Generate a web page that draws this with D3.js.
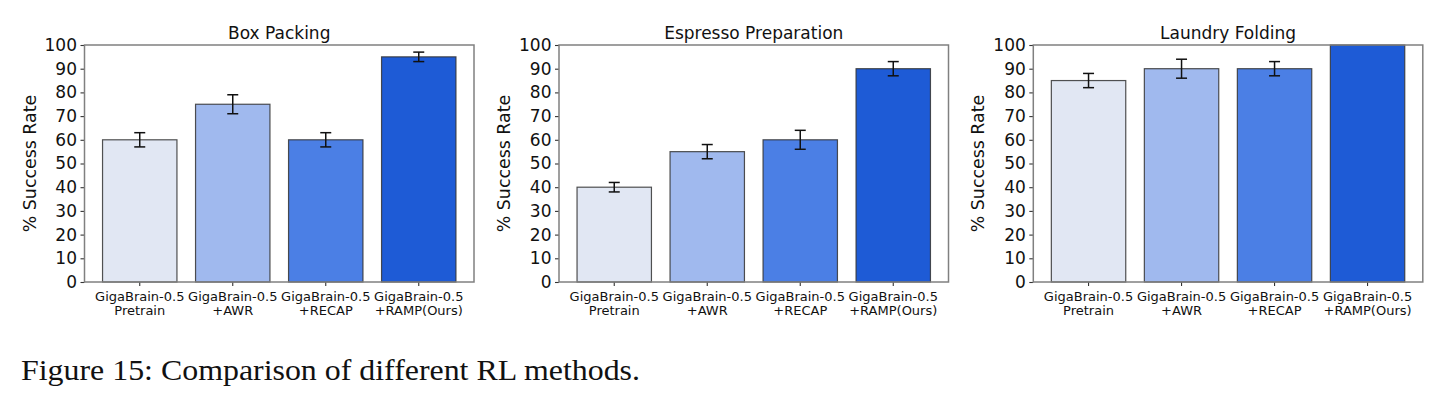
<!DOCTYPE html>
<html>
<head>
<meta charset="utf-8">
<script src="https://cdn.jsdelivr.net/npm/d3@7"></script>
<style>
  html, body { margin: 0; padding: 0; background: #fff; }
  svg { display: block; }
</style>
</head>
<body>
<svg id="chart"></svg>
<script>
// three bar panels — success rate of RL methods per task, with error bars

const methodLines = [
    ['GigaBrain-0.5', 'Pretrain'],
    ['GigaBrain-0.5', '+AWR'],
    ['GigaBrain-0.5', '+RECAP'],
    ['GigaBrain-0.5', '+RAMP(Ours)'],
];
const barColors = ['#e1e7f3', '#a0b9ee', '#4b7fe5', '#1e5bd6'];

const taskNames = ['Box Packing', 'Espresso Preparation', 'Laundry Folding'];

const boxMeans      = [60, 75, 60, 95];
const boxErrs       = [3, 4, 3, 2];
const espressoMeans = [40, 55, 60, 90];
const espressoErrs  = [2, 3, 4, 3];
const laundryMeans  = [85, 90, 90, 100];
const laundryErrs   = [3, 4, 3, 0];

const yTicks = [0, 10, 20, 30, 40, 50, 60, 70, 80, 90, 100];
const caption = 'Figure 15: Comparison of different RL methods.';

const W = 1446, H = 402;
const svg = d3.select('#chart').attr('width', W).attr('height', H);

const panels = [
    { title: taskNames[0], means: boxMeans,      errs: boxErrs,      left: 84.5 },
    { title: taskNames[1], means: espressoMeans, errs: espressoErrs, left: 559 },
    { title: taskNames[2], means: laundryMeans,  errs: laundryErrs,  left: 1033.3 },
];

const plotW = 389.5, plotTop = 45, plotBottom = 282;
const FONT = '"DejaVu Sans", sans-serif';

const y = d3.scaleLinear().domain([0, 100]).range([plotBottom, plotTop]);

panels.forEach(p => {
    const g = svg.append('g').attr('transform', `translate(${p.left},0)`);

    const x = d3.scaleBand()
        .domain(d3.range(methodLines.length))
        .range([0, plotW])
        .paddingInner(0.2)
        .paddingOuter(0.194);

    // bars
    g.selectAll('rect.bar')
        .data(p.means)
        .join('rect')
        .attr('class', 'bar')
        .attr('x', (d, i) => x(i))
        .attr('width', x.bandwidth())
        .attr('y', d => y(d))
        .attr('height', d => y(0) - y(d))
        .attr('fill', (d, i) => barColors[i])
        .attr('stroke', '#333')
        .attr('stroke-opacity', 0.85)
        .attr('stroke-width', 1.2);

    // error bars
    const eb = g.selectAll('g.err')
        .data(p.means.map((m, i) => ({ m, e: p.errs[i], i })).filter(d => d.e > 0))
        .join('g').attr('class', 'err')
        .attr('transform', d => `translate(${x(d.i) + x.bandwidth() / 2},0)`)
        .attr('stroke', '#111').attr('stroke-width', 1.5);
    eb.append('line').attr('y1', d => y(d.m - d.e)).attr('y2', d => y(d.m + d.e));
    eb.append('line').attr('x1', -5.5).attr('x2', 5.5)
        .attr('y1', d => y(d.m + d.e)).attr('y2', d => y(d.m + d.e));
    eb.append('line').attr('x1', -5.5).attr('x2', 5.5)
        .attr('y1', d => y(d.m - d.e)).attr('y2', d => y(d.m - d.e));

    // y axis
    const yAxis = g.append('g')
        .call(d3.axisLeft(y).tickValues(yTicks).tickSize(4).tickPadding(3.5));
    yAxis.select('.domain').remove();
    yAxis.selectAll('line').attr('stroke', '#333').attr('stroke-width', 1.1);
    yAxis.selectAll('text').attr('font-family', FONT).attr('font-size', '17px').attr('fill', '#111');

    // x axis (ticks + two-line labels)
    const xAxis = g.append('g').attr('transform', `translate(0,${plotBottom})`)
        .call(d3.axisBottom(x).tickSize(4).tickFormat(''));
    xAxis.select('.domain').remove();
    xAxis.selectAll('line').attr('stroke', '#333').attr('stroke-width', 1.1);
    xAxis.selectAll('.tick').append('text')
        .attr('fill', '#111')
        .attr('font-family', FONT)
        .attr('font-size', '13px')
        .attr('text-anchor', 'middle')
        .attr('y', 18.8)
        .selectAll('tspan')
        .data(i => methodLines[i])
        .join('tspan')
        .attr('x', 0)
        .attr('dy', (d, j) => j ? 14.3 : 0)
        .text(d => d);

    // frame
    g.append('rect')
        .attr('x', 0).attr('y', plotTop)
        .attr('width', plotW).attr('height', plotBottom - plotTop)
        .attr('fill', 'none').attr('stroke', '#808080').attr('stroke-width', 1.5);

    // title
    g.append('text')
        .attr('x', plotW / 2).attr('y', 38.5)
        .attr('text-anchor', 'middle')
        .attr('font-family', FONT).attr('font-size', '17px').attr('fill', '#111')
        .text(p.title);

    // y label
    g.append('text')
        .attr('transform', `translate(-49,${(plotTop + plotBottom) / 2}) rotate(-90)`)
        .attr('text-anchor', 'middle')
        .attr('font-family', FONT).attr('font-size', '17.4px').attr('fill', '#111')
        .text('% Success Rate');
});

svg.append('text')
    .attr('x', 21).attr('y', 379.5)
    .attr('font-family', '"Liberation Serif", "Times New Roman", serif')
    .attr('font-size', '28.5px').attr('fill', '#111')
    .attr('textLength', 619)
    .attr('lengthAdjust', 'spacingAndGlyphs')
    .text(caption);
</script>
</body>
</html>
